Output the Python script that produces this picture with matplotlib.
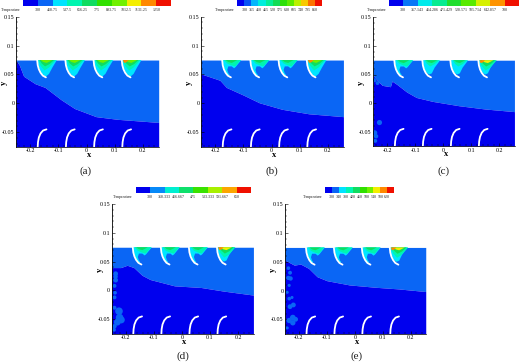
import numpy as np
import matplotlib
matplotlib.use("Agg")
import matplotlib.pyplot as plt
from matplotlib.colors import ListedColormap, LinearSegmentedColormap
from matplotlib.ticker import FixedLocator

W, H = 520, 362
plt.rcParams['font.family'] = ['Liberation Serif', 'DejaVu Serif']

# ---------- data ----------
x_ticks = [-0.2, -0.1, 0, 0.1, 0.2]
x_tick_labels = ['-0.2', '-0.1', '0', '0.1', '0.2']
y_ticks = [-0.05, 0, 0.05, 0.1, 0.15]
y_tick_labels = ['-0.05', '0', '0.05', '0.1', '0.15']

labels_a = ['300', '418.75', '537.5', '656.25', '775', '893.75', '1012.5', '1131.25', '1250']
labels_b = ['300', '355', '410', '465', '520', '575', '630', '685', '740', '795', '850']
labels_c = ['300', '357.143', '414.286', '471.429', '528.571', '585.714', '642.857', '700']
labels_d = ['300', '358.333', '416.667', '475', '533.333', '591.667', '650']
labels_e = ['300', '340', '380', '420', '460', '500', '540', '580', '620']

front_a_x = [-0.25, -0.238, -0.223, -0.182, -0.147, -0.089, -0.042, 0.034, 0.11, 0.256]
front_a_y = [0.075, 0.066, 0.047, 0.034, 0.0276, 0.006, -0.009, -0.023, -0.0276, -0.033]
front_b_x = [-0.25, -0.183, -0.16, -0.10, -0.043, 0.038, 0.132, 0.255]
front_b_y = [0.051, 0.04, 0.0276, 0.0144, 0.001, -0.0103, -0.018, -0.023]
front_c_x = [-0.25, -0.23, -0.218, -0.189, -0.183, -0.166, -0.131, -0.096, -0.037, 0.056, 0.149, 0.254]
front_c_y = [0.048, 0.0368, 0.031, 0.0287, 0.0385, 0.0328, 0.0195, 0.0098, 0.0029, -0.0046, -0.0103, -0.0149]
front_d_x = [-0.25, -0.218, -0.195, -0.171, -0.142, -0.113, -0.026, 0.068, 0.149, 0.255]
front_d_y = [0.0397, 0.0397, 0.0437, 0.0397, 0.0264, 0.019, 0.008, 0.0052, -0.0011, -0.008]
front_e_x = [-0.25, -0.217, -0.194, -0.165, -0.135, -0.10, -0.019, 0.075, 0.156, 0.254]
front_e_y = [0.0529, 0.0443, 0.046, 0.0385, 0.0241, 0.0172, 0.0098, 0.0057, 0.0029, -0.0017]

spots_c_x = [-0.245, -0.235, -0.228, -0.245, -0.24, -0.243]
spots_c_y = [0.040, 0.035, -0.034, -0.052, -0.058, -0.066]
spots_c_s = [8, 8, 14, 14, 10, 8]
spots_d_x = [-0.236, -0.236, -0.24, -0.236, -0.24, -0.238, -0.224, -0.216, -0.23, -0.222, -0.24, -0.24, -0.242]
spots_d_y = [0.029, 0.018, 0.008, 0.024, -0.012, -0.004, -0.036, -0.051, -0.055, -0.047, -0.03, -0.062, -0.068]
spots_d_s = [12, 12, 8, 10, 8, 7, 30, 26, 24, 30, 8, 10, 8]
spots_e_x = [-0.238, -0.232, -0.238, -0.23, -0.235, -0.242, -0.225, -0.235, -0.22, -0.232, -0.222, -0.212, -0.222, -0.235, -0.242]
spots_e_y = [0.039, 0.031, 0.022, 0.021, 0.009, -0.003, -0.012, -0.014, -0.025, -0.028, -0.047, -0.05, -0.056, -0.052, -0.065]
spots_e_s = [7, 8, 10, 10, 5, 5, 5, 7, 12, 12, 17, 12, 15, 15, 5]

blade_base_x = [-0.175, -0.075, 0.025, 0.125]
upper_blade_x = [0.0, 0.002, 0.006, 0.012, 0.02, 0.031]
upper_blade_y = [0.075, 0.066, 0.059, 0.053, 0.048, 0.045]
lower_blade_x = [0.002, 0.003, 0.006, 0.012, 0.021, 0.033]
lower_blade_y = [-0.075, -0.067, -0.059, -0.052, -0.047, -0.045]

deep_x = [0.0, 0.006, 0.016, 0.03, 0.042, 0.054, 0.07]
deep_y = [0.075, 0.062, 0.052, 0.046, 0.051, 0.062, 0.075]
mid_x = [0.004, 0.012, 0.026, 0.042, 0.066]
mid_y = [0.075, 0.065, 0.057, 0.062, 0.075]
shallow_x = [0.008, 0.016, 0.028, 0.044, 0.06]
shallow_y = [0.075, 0.069, 0.064, 0.068, 0.075]
top_x = [0.012, 0.022, 0.034, 0.054]
top_y = [0.075, 0.0715, 0.070, 0.075]
hot_x = [0.004, 0.008, 0.016, 0.024]
hot_y = [0.075, 0.070, 0.071, 0.075]
wedge_x = [0.0, 0.006, 0.014, 0.024, 0.034, 0.044, 0.064]
wedge_y = [0.075, 0.062, 0.054, 0.050, 0.052, 0.062, 0.075]
curl_x = [0.0, 0.006, 0.014, 0.024, 0.036, 0.048, 0.068]
curl_y = [0.075, 0.062, 0.052, 0.048, 0.058, 0.063, 0.075]
bite_x = [0.018, 0.022, 0.032, 0.042, 0.044, 0.034, 0.022]
bite_y = [0.058, 0.052, 0.047, 0.052, 0.060, 0.064, 0.064]
thin_x = [0.006, 0.018, 0.032, 0.046, 0.066]
thin_y = [0.075, 0.069, 0.066, 0.064, 0.075]

bg_dark = '#0000EE'
bg_blue = '#0A66F5'
cyan, teal, green, lime, yellow, orange, red = '#00E6FF', '#00F5B0', '#10DC60', '#70F000', '#F4F000', '#FF8A00', '#F01000'

normal = [(deep_x, deep_y, cyan), (mid_x, mid_y, teal), (shallow_x, shallow_y, green), (top_x, top_y, lime)]
hotter = [(deep_x, deep_y, cyan), (mid_x, mid_y, teal), (shallow_x, shallow_y, green), (top_x, top_y, lime),
          (hot_x, hot_y, orange)]
curled = [(curl_x, curl_y, cyan), (bite_x, bite_y, bg_blue), (thin_x, thin_y, teal), (top_x, top_y, green)]
wedged = [(wedge_x, wedge_y, cyan), (shallow_x, shallow_y, teal), (top_x, top_y, green)]
wedged_hot = [(wedge_x, wedge_y, cyan), (mid_x, mid_y, teal), (shallow_x, shallow_y, green),
              (top_x, top_y, yellow), (hot_x, hot_y, orange)]

panels = [
    dict(tag='(a)', box=(16, 158.7, 16.7, 146.7), bar=(23, 171, 0, 6), lab_y=10, temp_x=10.7, tag_xy=(86, 171),
         labels=labels_a, fx=front_a_x, fy=front_a_y, flames=[normal, normal, normal, hotter], spots=None),
    dict(tag='(b)', box=(201, 343.7, 16.7, 146.7), bar=(237.3, 322, 0, 6), lab_y=10, temp_x=225, tag_xy=(272, 171),
         labels=labels_b, fx=front_b_x, fy=front_b_y, flames=[curled, curled, curled, hotter], spots=None),
    dict(tag='(c)', box=(373.3, 515, 17.3, 146), bar=(388.7, 519, 0, 6), lab_y=10, temp_x=377, tag_xy=(444, 171),
         labels=labels_c, fx=front_c_x, fy=front_c_y, flames=[curled, wedged, wedged, wedged_hot],
         spots=(spots_c_x, spots_c_y, spots_c_s)),
    dict(tag='(d)', box=(111.7, 253.7, 204, 333.7), bar=(135.7, 251, 186.7, 193), lab_y=196.7, temp_x=123, tag_xy=(183, 356),
         labels=labels_d, fx=front_d_x, fy=front_d_y, flames=[curled, curled, curled, wedged_hot],
         spots=(spots_d_x, spots_d_y, spots_d_s)),
    dict(tag='(e)', box=(285, 426.3, 204.3, 333.7), bar=(325.3, 394, 186.7, 193), lab_y=196.7, temp_x=312.7, tag_xy=(357, 356),
         labels=labels_e, fx=front_e_x, fy=front_e_y, flames=[curled, curled, curled, wedged_hot],
         spots=(spots_e_x, spots_e_y, spots_e_s)),
]

rainbow = LinearSegmentedColormap.from_list(
    'tec', [bg_dark, bg_blue, cyan, teal, green, '#30E000', lime, yellow, orange, red])

fig = plt.figure(figsize=(W / 100, H / 100), dpi=100, facecolor='white')


def add_axes_px(x0, x1, y0, y1):
    return fig.add_axes([x0 / W, 1 - y1 / H, (x1 - x0) / W, (y1 - y0) / H])


for p in panels:
    x0, x1, y0, y1 = p['box']
    ax = add_axes_px(x0, x1, y0, y1)
    ax.set_xlim(-0.25, 0.256)
    ax.set_ylim(-0.075, 0.15)
    ax.fill_between(p['fx'], p['fy'], 0.075, color=bg_blue, lw=0, zorder=1)
    ax.fill_between(p['fx'], -0.075, p['fy'], color=bg_dark, lw=0, zorder=1)
    if p['spots']:
        ax.scatter(p['spots'][0], p['spots'][1], s=p['spots'][2], color=bg_blue, lw=0, zorder=2, clip_on=True)
    for base, bands in zip(blade_base_x, p['flames']):
        for bx, by, col in bands:
            ax.fill(np.array(bx) + base, by, color=col, lw=0, zorder=3)
        ax.plot(np.array(upper_blade_x) + base, upper_blade_y, color='white', lw=1.3, zorder=4, solid_capstyle='round')
        ax.plot(np.array(lower_blade_x) + base, lower_blade_y, color='white', lw=1.3, zorder=4, solid_capstyle='round')

    for s in ('top', 'right'):
        ax.spines[s].set_visible(False)
    ax.spines['left'].set_linewidth(0.6)
    ax.spines['bottom'].set_linewidth(0.5)
    ax.set_xticks(x_ticks, x_tick_labels)
    ax.set_yticks(y_ticks, y_tick_labels)
    ax.yaxis.set_minor_locator(FixedLocator(np.arange(-0.07, 0.1501, 0.01)))
    ax.xaxis.set_minor_locator(FixedLocator(np.arange(-0.24, 0.25, 0.02)))
    ax.tick_params(axis='both', which='major', direction='in', length=2.5, width=0.4, labelsize=4.3, pad=1.2)
    ax.tick_params(axis='both', which='minor', direction='in', length=1.2, width=0.3)
    ax.text(0.5 + 0.012, -0.066, 'x', transform=ax.transAxes, ha='center', va='center', fontsize=6, fontweight='bold')
    ax.text(-0.085, 0.49, 'y', transform=ax.transAxes, ha='center', va='center', fontsize=6, fontweight='bold', rotation=90)

    # colour bar
    bx0, bx1, by0, by1 = p['bar']
    cax = add_axes_px(bx0, bx1, by0, by1)
    n_blocks = len(p['labels']) + 1
    cols = ListedColormap([rainbow(i / (n_blocks - 1)) for i in range(n_blocks)])
    cax.pcolormesh(np.arange(n_blocks + 1), [0, 1], np.arange(n_blocks)[None, :], cmap=cols, shading='flat')
    cax.axis('off')
    for i, lab in enumerate(p['labels']):
        px = bx0 + (bx1 - bx0) * (i + 1) / n_blocks
        fig.text(px / W, 1 - p['lab_y'] / H, lab, ha='center', va='center', fontsize=2.9, color='#222222')
    fig.text(p['temp_x'] / W, 1 - p['lab_y'] / H, 'Temperature', ha='center', va='center', fontsize=2.9, color='#222222')
    fig.text(p['tag_xy'][0] / W, 1 - p['tag_xy'][1] / H, p['tag'], ha='center', va='center', fontsize=8, color='#222222')

fig.savefig('out.png', dpi=100)
